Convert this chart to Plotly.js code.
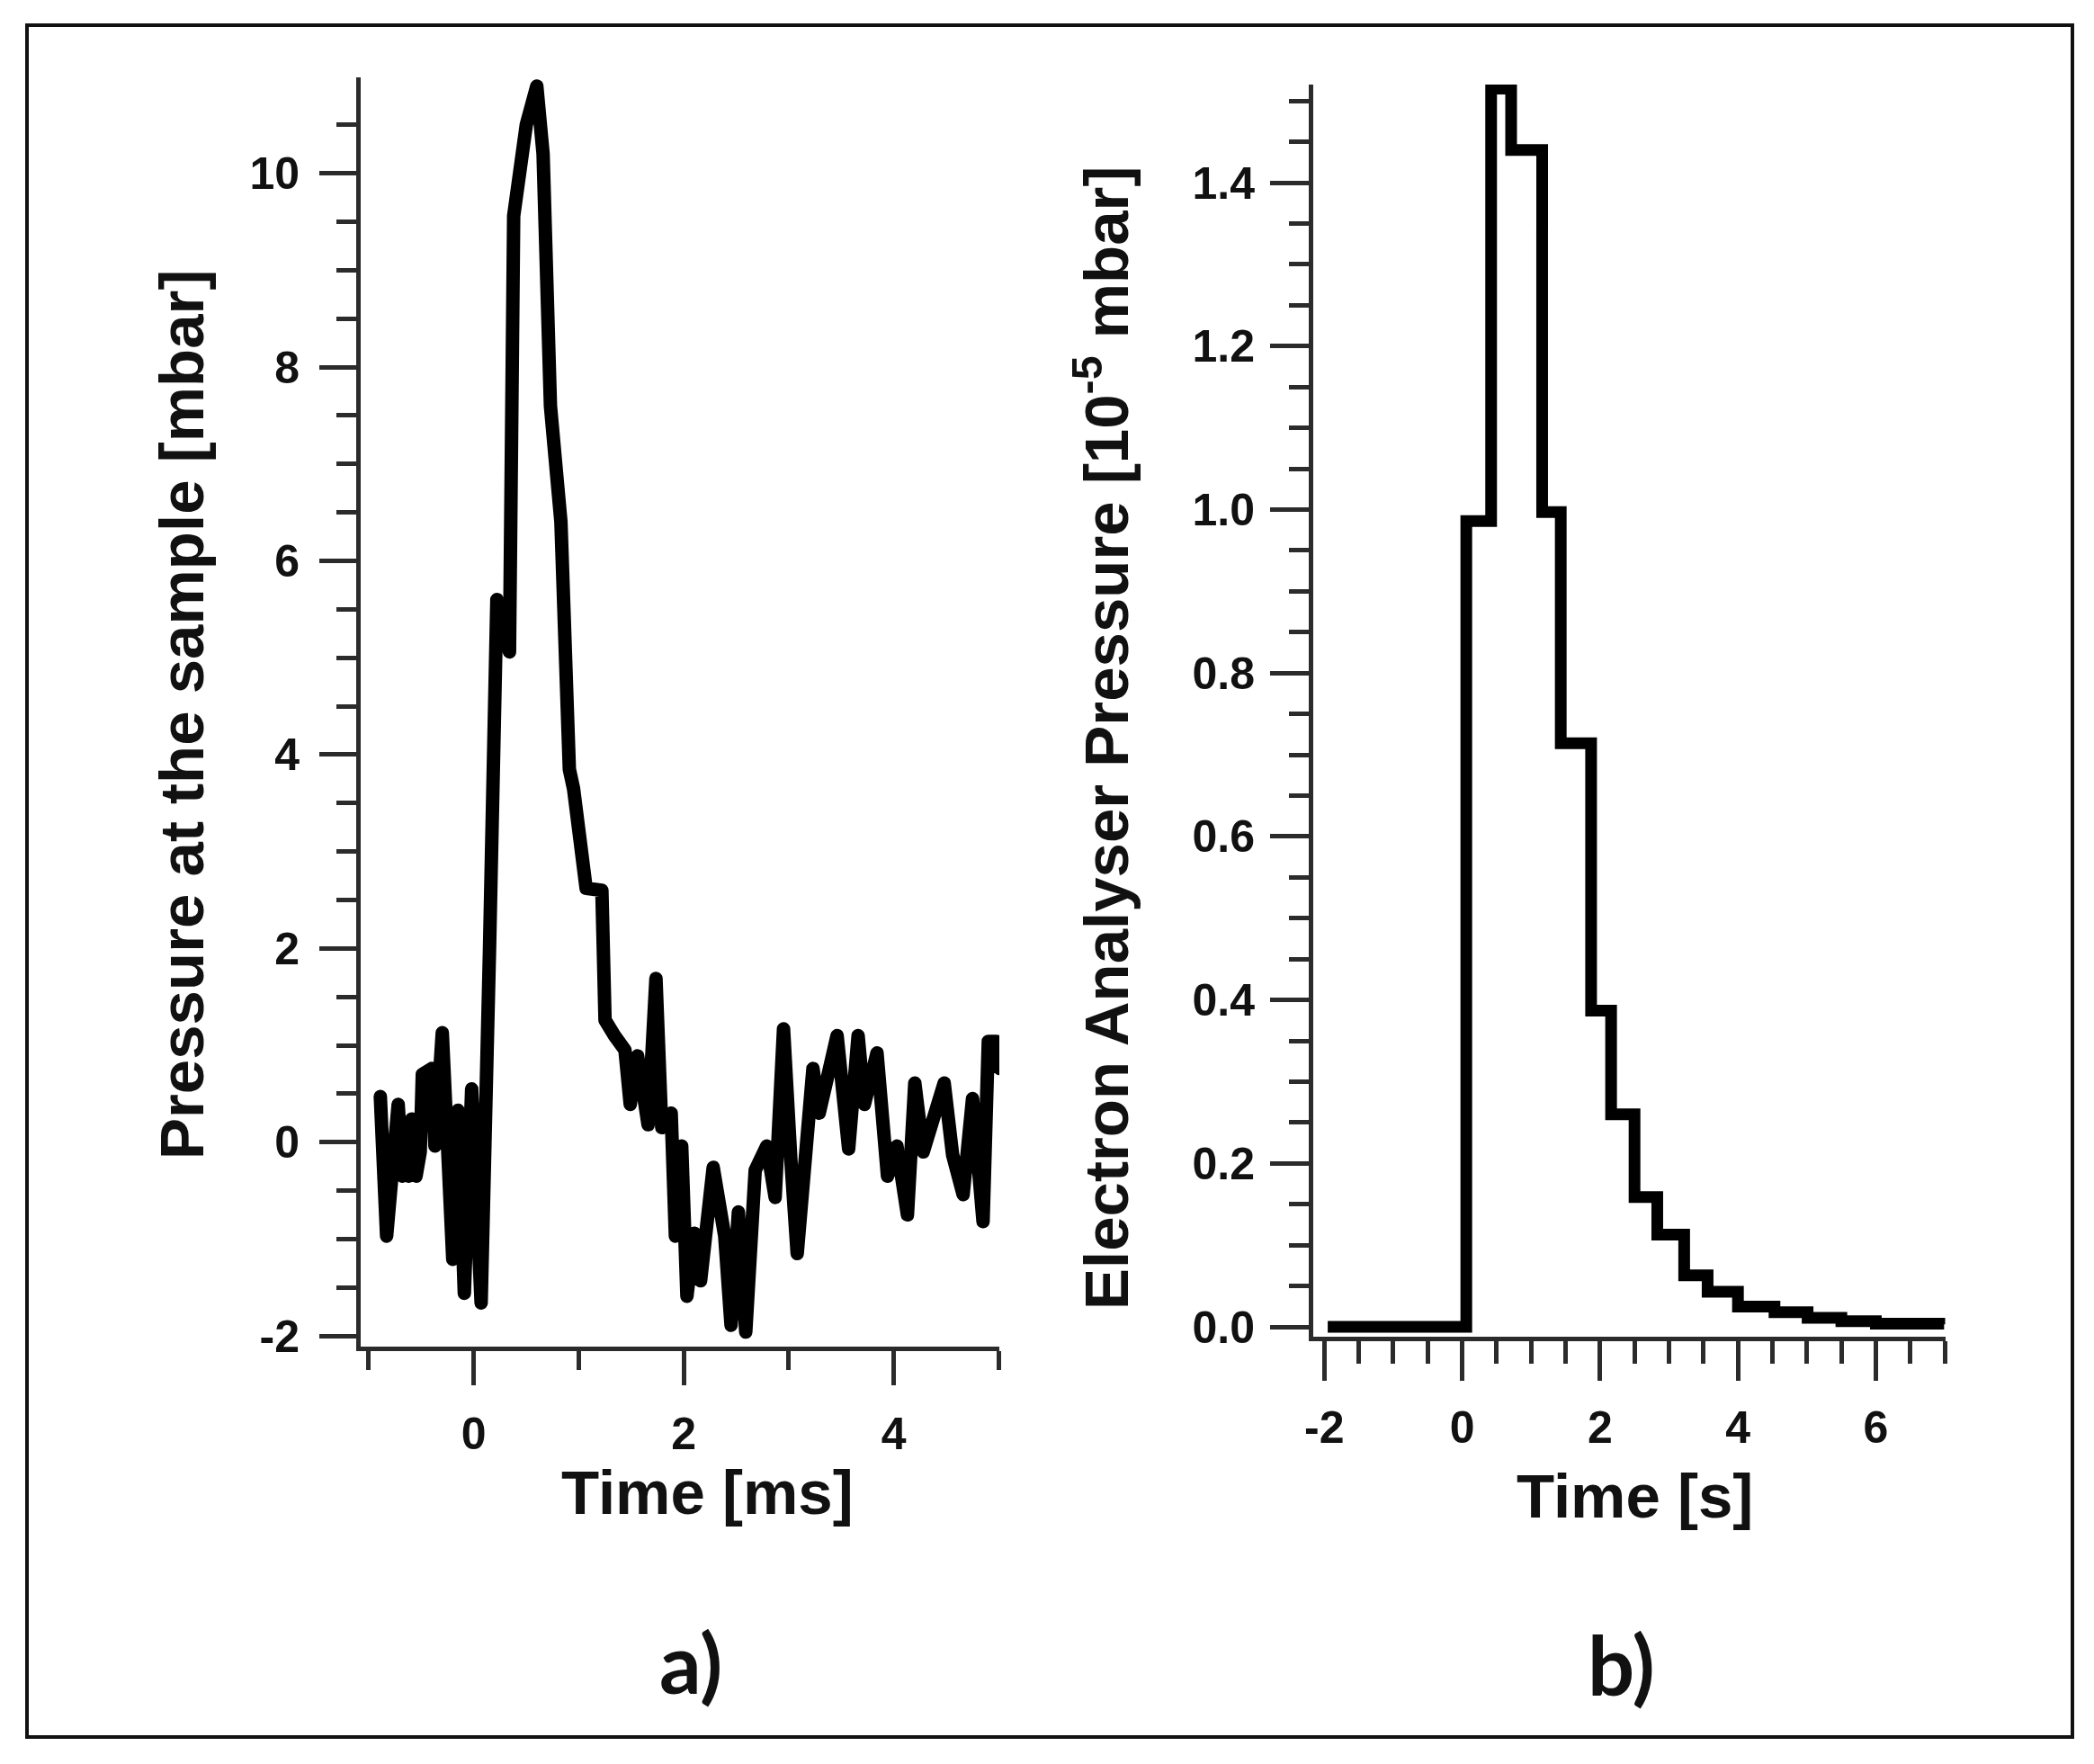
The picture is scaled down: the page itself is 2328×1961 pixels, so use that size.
<!DOCTYPE html>
<html>
<head>
<meta charset="utf-8">
<script src="https://cdn.plot.ly/plotly-3.0.1.min.js"></script>
<style>
  html, body { margin: 0; padding: 0; background: #fff; }
  .subplot.xy .js-line { stroke-linejoin: round; stroke-linecap: round; }
</style>
</head>
<body>
<div id="chart" style="width:2328px;height:1961px;"></div>
<script>
// ---- Panel a) : pressure at the sample [mbar] vs time [ms] ----
const panelATime = [-0.89, -0.83, -0.72, -0.68, -0.65, -0.62, -0.59, -0.55, -0.51, -0.49,
  -0.40, -0.37, -0.30, -0.26, -0.20, -0.15, -0.09, -0.02, 0.07, 0.15,
  0.22, 0.34, 0.38, 0.50, 0.60, 0.66, 0.73, 0.83, 0.91, 0.95,
  1.07, 1.22, 1.25, 1.34, 1.44, 1.49, 1.56, 1.66, 1.735, 1.79,
  1.88, 1.92, 1.98, 2.03, 2.10, 2.16, 2.28, 2.39, 2.45, 2.52,
  2.59, 2.68, 2.79, 2.87, 2.95, 3.02, 3.08, 3.23, 3.29, 3.46,
  3.57, 3.66, 3.72, 3.84, 3.94, 4.03, 4.13, 4.20, 4.28, 4.48,
  4.56, 4.66, 4.75, 4.85, 4.90, 4.98, 5.01];
const panelAPressure = [0.47, -0.97, 0.39, -0.35, 0.15, -0.35, 0.24, -0.35, -0.10, 0.70,
  0.76, -0.04, 1.13, -0.04, -1.21, 0.33, -1.56, 0.55, -1.66, 2.0,
  5.6, 5.06, 9.56, 10.5, 10.9, 10.2, 7.6, 6.4, 3.85, 3.65,
  2.62, 2.6, 1.26, 1.10, 0.95, 0.39, 0.89, 0.18, 1.69, 0.15,
  0.30, -0.97, -0.04, -1.59, -0.94, -1.43, -0.26, -0.97, -1.89, -0.72,
  -1.96, -0.29, -0.04, -0.57, 1.17, -0.19, -1.15, 0.76, 0.30, 1.10,
  -0.07, 1.10, 0.39, 0.92, -0.35, -0.04, -0.75, 0.61, -0.10, 0.61,
  -0.13, -0.54, 0.45, -0.82, 1.04, 1.04, 0.76];
const panelAXTickVals = [0, 2, 4];
const panelAXTickText = ['0', '2', '4'];
const panelAYTickVals = [-2, 0, 2, 4, 6, 8, 10];
const panelAYTickText = ['-2', '0', '2', '4', '6', '8', '10'];

// ---- Panel b) : electron analyser pressure [1e-5 mbar] vs time [s] (step trace) ----
const panelBTime = [-1.95, 0.06, 0.42, 0.71, 1.16, 1.43, 1.87, 2.16, 2.50, 2.83,
  3.22, 3.56, 4.00, 4.53, 5.01, 5.50, 6.00, 6.99];
const panelBPressure = [0.0, 0.986, 1.515, 1.44, 0.997, 0.714, 0.387, 0.26, 0.159, 0.113,
  0.063, 0.043, 0.025, 0.018, 0.011, 0.007, 0.004, 0.003];
const panelBXTickVals = [-2, 0, 2, 4, 6];
const panelBXTickText = ['-2', '0', '2', '4', '6'];
const panelBYTickVals = [0, 0.2, 0.4, 0.6, 0.8, 1.0, 1.2, 1.4];
const panelBYTickText = ['0.0', '0.2', '0.4', '0.6', '0.8', '1.0', '1.2', '1.4'];

const W = 2328, H = 1961;
const AX = '#2b2b2b';
const tickFont = {family: 'Liberation Sans, Arial, sans-serif', size: 50, color: '#111', weight: 'bold'};
const titleFont = {family: 'Liberation Sans, Arial, sans-serif', size: 69, color: '#111', weight: 'bold'};
const panelFont = {family: 'Lato, Open Sans, sans-serif', size: 92, color: '#111', weight: 'bold'};

function axis(extra) {
  return Object.assign({
    showline: true, linecolor: AX, linewidth: 5,
    ticks: 'outside', tickcolor: AX, tickwidth: 5,
    tickmode: 'array', tickfont: tickFont,
    showgrid: false, zeroline: false, fixedrange: true
  }, extra);
}
function minor(dtick, len) {
  return {tickmode: 'linear', tick0: 0, dtick: dtick, ticklen: len, tickwidth: 5, tickcolor: AX, ticks: 'outside', showgrid: false};
}
function label(text, px, py, extra) {
  return Object.assign({text: text, xref: 'paper', yref: 'paper', x: px / W, y: 1 - py / H,
    xanchor: 'center', yanchor: 'middle', showarrow: false, font: titleFont}, extra || {});
}

const traces = [
  {x: panelATime, y: panelAPressure, xaxis: 'x', yaxis: 'y', type: 'scatter', mode: 'lines',
   line: {color: '#000', width: 15}, hoverinfo: 'skip'},
  {x: panelBTime, y: panelBPressure, xaxis: 'x2', yaxis: 'y2', type: 'scatter', mode: 'lines',
   line: {color: '#000', width: 13, shape: 'hv'}, hoverinfo: 'skip'}
];

const layout = {
  width: W, height: H,
  margin: {l: 0, r: 0, t: 0, b: 0},
  paper_bgcolor: '#fff', plot_bgcolor: '#fff',
  showlegend: false,
  xaxis: axis({
    domain: [401 / W, 1111 / W], range: [-1.077, 5.005], anchor: 'y',
    tickvals: panelAXTickVals, ticktext: panelAXTickText, ticklen: 38, ticklabelstandoff: 11,
    minor: minor(1, 21)
  }),
  yaxis: axis({
    domain: [1 - 1497 / H, 1 - 86 / H], range: [-2.11, 10.99], anchor: 'x',
    tickvals: panelAYTickVals, ticktext: panelAYTickText, ticklen: 41, ticklabelstandoff: 12,
    minor: minor(0.5, 22)
  }),
  xaxis2: axis({
    domain: [1460 / W, 2162.5 / W], range: [-2.16, 7.005], anchor: 'y2',
    tickvals: panelBXTickVals, ticktext: panelBXTickText, ticklen: 44, ticklabelstandoff: 9,
    minor: minor(0.5, 25)
  }),
  yaxis2: axis({
    domain: [1 - 1486 / H, 1 - 94 / H], range: [-0.012, 1.52], anchor: 'x2',
    tickvals: panelBYTickVals, ticktext: panelBYTickText, ticklen: 43, ticklabelstandoff: 7,
    minor: minor(0.05, 22)
  }),
  shapes: [
    {type: 'rect', xref: 'paper', yref: 'paper', x0: 30 / W, x1: 2304 / W, y0: 1 - 1931 / H, y1: 1 - 28 / H,
     line: {color: '#111', width: 4}, fillcolor: 'rgba(0,0,0,0)', layer: 'below'}
  ],
  annotations: [
    label('Time [ms]', 786, 1659),
    label('Time [s]', 1817, 1663),
    label('Pressure at the sample [mbar]', 202, 795, {textangle: -90}),
    label('Electron Analyser Pressure [10<sup>-5</sup> mbar]', 1225, 821, {textangle: -90}),
    label('a)', 768, 1847, {font: panelFont}),
    label('b)', 1802, 1849, {font: panelFont})
  ]
};

Plotly.newPlot('chart', traces, layout, {staticPlot: true, displayModeBar: false});
</script>
</body>
</html>
